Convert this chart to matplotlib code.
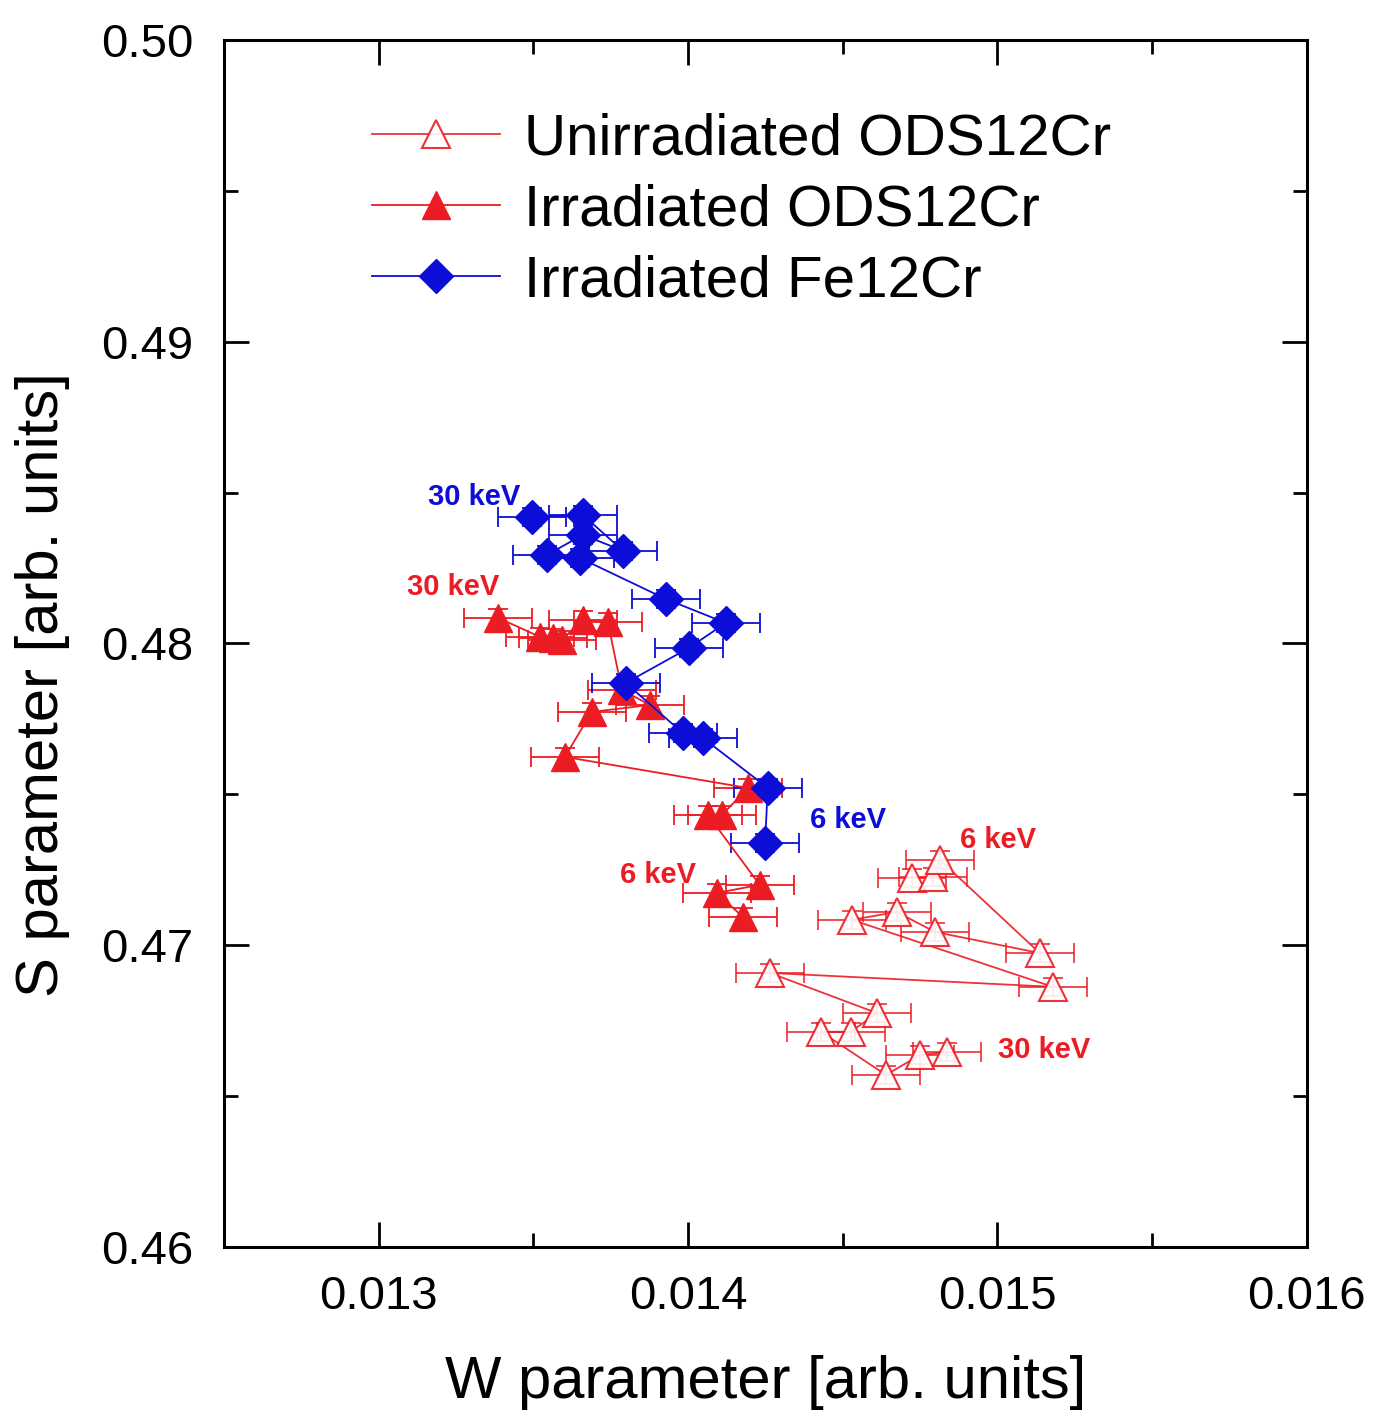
import matplotlib
matplotlib.use('Agg')
import matplotlib.pyplot as plt
from matplotlib.ticker import MultipleLocator

plt.rcParams['font.family'] = ['Liberation Sans', 'DejaVu Sans']

# Irradiated Fe12Cr (30 keV -> 6 keV)
fe_w = [0.013495, 0.013660, 0.013790, 0.013660, 0.013544, 0.013651, 0.013929,
        0.014122, 0.014003, 0.013799, 0.013983, 0.014048, 0.014258, 0.014249]
fe_s = [0.48419, 0.48426, 0.48307, 0.48360, 0.48293, 0.48283, 0.48147,
        0.48068, 0.47985, 0.47869, 0.47703, 0.47687, 0.47521, 0.47339]

# Irradiated ODS12Cr (30 keV -> 6 keV)
irr_w = [0.013386, 0.013521, 0.013563, 0.013592, 0.013660, 0.013741, 0.013786,
         0.013877, 0.013689, 0.013602, 0.014194, 0.014110, 0.014064, 0.014232,
         0.014093, 0.014177]
irr_s = [0.48085, 0.48022, 0.48018, 0.48012, 0.48078, 0.48071, 0.47846,
         0.47796, 0.47773, 0.47624, 0.47521, 0.47432, 0.47432, 0.47200,
         0.47173, 0.47094]

# Unirradiated ODS12Cr (6 keV -> 30 keV)
un_w = [0.014724, 0.014791, 0.014814, 0.015137, 0.014798, 0.014675, 0.014530,
        0.015179, 0.014265, 0.014611, 0.014526, 0.014430, 0.014640, 0.014750,
        0.014837]
un_s = [0.47223, 0.47226, 0.47283, 0.46974, 0.47044, 0.47110, 0.47084,
        0.46862, 0.46908, 0.46775, 0.46713, 0.46713, 0.46570, 0.46636,
        0.46646]

w_err = 0.00011
s_err = 0.0003

red = '#ec1c24'
blue = '#0d0dd8'

fig = plt.figure(figsize=(13.74, 14.16), dpi=100)
ax = fig.add_axes([0.163, 0.1194, 0.788, 0.8524])

# error bars
ax.errorbar(un_w, un_s, xerr=w_err, yerr=s_err, fmt='none', ecolor=red,
            elinewidth=1.3, capsize=7, capthick=1.3, alpha=0.85)
ax.errorbar(irr_w, irr_s, xerr=w_err, yerr=s_err, fmt='none', ecolor=red,
            elinewidth=1.3, capsize=7, capthick=1.3)
ax.errorbar(fe_w, fe_s, xerr=w_err, yerr=s_err, fmt='none', ecolor=blue,
            elinewidth=1.3, capsize=7, capthick=1.3)

# data lines + markers
ax.plot(un_w, un_s, color=red, lw=1.3, marker='^', ms=20, mfc='white',
        mec=red, mew=1.5, label='Unirradiated ODS12Cr', alpha=0.9)
ax.plot(irr_w, irr_s, color=red, lw=1.3, marker='^', ms=20, mfc=red,
        mec=red, label='Irradiated ODS12Cr')
ax.plot(fe_w, fe_s, color=blue, lw=1.3, marker='D', ms=17, mfc=blue,
        mec=blue, label='Irradiated Fe12Cr')

# energy labels
lab = dict(fontsize=21, fontweight='bold', va='center')
ax.text(0.013159, 0.48486, '30 keV', color=blue, **lab)
ax.text(0.013091, 0.48187, '30 keV', color=red, **lab)
ax.text(0.014394, 0.47415, '6 keV', color=blue, **lab)
ax.text(0.013780, 0.47233, '6 keV', color=red, **lab)
ax.text(0.014879, 0.47349, '6 keV', color=red, **lab)
ax.text(0.015002, 0.46653, '30 keV', color=red, **lab)

ax.set_xlim(0.0125, 0.016)
ax.set_ylim(0.46, 0.50)
ax.set_xticks([0.013, 0.014, 0.015, 0.016])
ax.set_xticklabels(['0.013', '0.014', '0.015', '0.016'])
ax.set_yticks([0.46, 0.47, 0.48, 0.49, 0.50])
ax.set_yticklabels(['0.46', '0.47', '0.48', '0.49', '0.50'])
ax.xaxis.set_minor_locator(MultipleLocator(0.0005))
ax.yaxis.set_minor_locator(MultipleLocator(0.005))
ax.tick_params(which='both', direction='in', top=True, right=True, labelsize=34, width=2)
ax.tick_params(which='major', length=18)
ax.tick_params(axis='x', which='major', pad=20)
ax.tick_params(axis='y', which='major', pad=22)
ax.tick_params(which='minor', length=10)
for sp in ax.spines.values():
    sp.set_linewidth(2.2)

ax.set_xlabel('W parameter [arb. units]', fontsize=43, labelpad=26)
ax.set_ylabel('S parameter [arb. units]', fontsize=43)
ax.yaxis.set_label_coords(-0.142, 0.4656)

ax.legend(loc='upper left', bbox_to_anchor=(0.1367, 0.94), frameon=False,
          fontsize=42, handlelength=2.2, handletextpad=0.4, labelspacing=0.29,
          borderaxespad=0, borderpad=0)

fig.savefig('out.png', dpi=100)
